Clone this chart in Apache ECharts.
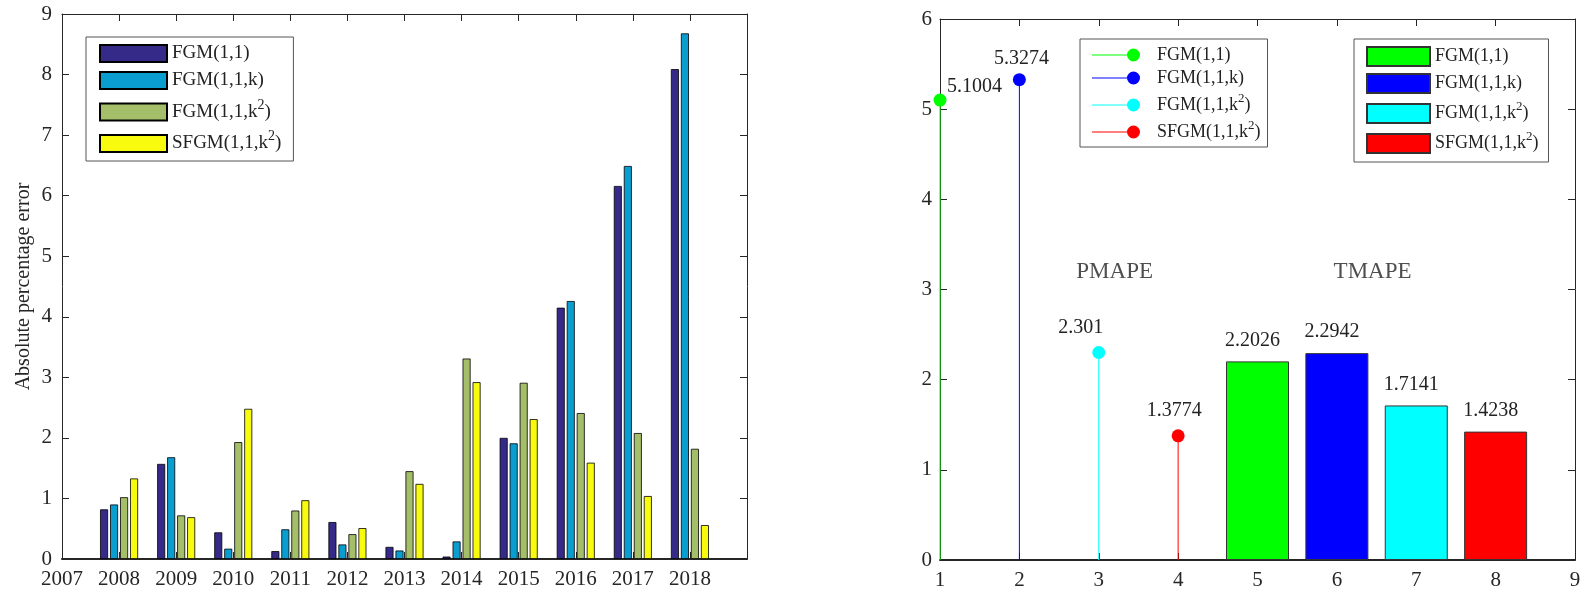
<!DOCTYPE html>
<html><head><meta charset="utf-8">
<script src="https://cdn.jsdelivr.net/npm/echarts@6/dist/echarts.min.js"></script>
<style>html,body{margin:0;padding:0;background:#fff}#c{width:1585px;height:595px}</style>
</head><body><div id="c"></div>
<script>
// ---------- data ----------
const years = [2008, 2009, 2010, 2011, 2012, 2013, 2014, 2015, 2016, 2017, 2018];
const apeFGM11   = [0.82, 1.57, 0.44, 0.13, 0.61, 0.20, 0.04, 2.00, 4.15, 6.16, 8.09];
const apeFGM11k  = [0.90, 1.68, 0.17, 0.49, 0.24, 0.14, 0.29, 1.91, 4.26, 6.49, 8.68];
const apeFGM11k2 = [1.02, 0.72, 1.93, 0.80, 0.41, 1.45, 3.31, 2.91, 2.41, 2.08, 1.82];
const apeSFGM    = [1.33, 0.69, 2.48, 0.97, 0.51, 1.24, 2.92, 2.31, 1.59, 1.04, 0.56];

const modelLabels = ['FGM(1,1)', 'FGM(1,1,k)', 'FGM(1,1,k^2)', 'SFGM(1,1,k^2)'];

const pmapeX = [1, 2, 3, 4];
const pmape  = [5.1004, 5.3274, 2.301, 1.3774];
const tmapeX = [5, 6, 7, 8];
const tmape  = [2.2026, 2.2942, 1.7141, 1.4238];

const annotations = [['PMAPE', 3.2, 3.2], ['TMAPE', 6.45, 3.2]];

// ---------- styles ----------
const F = "'Liberation Serif','Times New Roman',serif";
const TC = '#222';
const leftColors = ['#352a87', '#0a9dd0', '#a5be6a', '#f9fb0e'];
const rightColors = ['#00ff00', '#0000ff', '#00ffff', '#ff0000'];

function richLabel(txt, prefix) {
  const pre = prefix ? '{g| }' : '';
  if (txt.indexOf('^2') >= 0) {
    const parts = txt.split('^2');
    return pre + '{s|' + parts[0] + '}{p|2}{s|' + parts[1] + '}';
  }
  return pre + '{a|' + txt + '}';
}
function richStyles(fs, supFs, lhPlain, lhSup, gapW) {
  return {
    a: {fontSize: fs, fontFamily: F, color: TC, lineHeight: lhPlain},
    s: {fontSize: fs, fontFamily: F, color: TC, lineHeight: lhSup},
    p: {fontSize: supFs, fontFamily: F, color: TC, lineHeight: 12, verticalAlign: 'top'},
    g: {width: gapW || 0, fontSize: fs}
  };
}

const axisCommon = {
  axisLine: {onZero: false, lineStyle: {color: '#262626', width: 1}},
  axisTick: {inside: true, length: 7, lineStyle: {color: '#262626'}},
  splitLine: {show: false},
  axisLabel: {fontFamily: F, fontSize: 21, color: '#262626'}
};
function ax(extra) {
  const o = JSON.parse(JSON.stringify(axisCommon));
  for (const k in extra) {
    if (typeof extra[k] === 'object' && !Array.isArray(extra[k]) && o[k]) Object.assign(o[k], extra[k]);
    else o[k] = extra[k];
  }
  return o;
}

const labelMap = {};
['L', 'P', 'T'].forEach(p => modelLabels.forEach((m, i) => { labelMap[p + (i + 1)] = m; }));

// ---------- series ----------
const leftData = [apeFGM11, apeFGM11k, apeFGM11k2, apeSFGM];
const series = [];
leftData.forEach((arr, i) => {
  series.push({
    name: 'L' + (i + 1), type: 'bar', xAxisIndex: 0, yAxisIndex: 0,
    barWidth: 8, barGap: '25%',
    itemStyle: {color: leftColors[i], borderColor: '#000', borderWidth: 0.8},
    data: years.map((y, j) => [y, arr[j]]),
    silent: true
  });
});

const stemLabelOffsets = [[7, -13, 'left'], [2, -21, 'center'], [-18, -25, 'center'], [-4, -25, 'center']];
pmape.forEach((v, i) => {
  const col = rightColors[i];
  const off = stemLabelOffsets[i];
  series.push({
    name: 'P' + (i + 1), type: 'custom', xAxisIndex: 2, yAxisIndex: 2,
    itemStyle: {color: col},
    data: [[pmapeX[i], v]],
    encode: {x: 0, y: 1},
    silent: true,
    renderItem: function (params, api) {
      const x = api.value(0), y = api.value(1);
      const top = api.coord([x, y]);
      const base = api.coord([x, 0]);
      return {type: 'group', children: [
        {type: 'line', shape: {x1: base[0], y1: base[1], x2: top[0], y2: top[1]}, style: {stroke: col, lineWidth: 1}},
        {type: 'circle', shape: {cx: top[0], cy: top[1], r: 6.5}, style: {fill: col}},
        {type: 'text', style: {text: String(y), x: top[0] + off[0], y: top[1] + off[1], align: off[2], verticalAlign: 'middle',
          font: '20px ' + F, fill: TC}}
      ]};
    }
  });
});

tmape.forEach((v, i) => {
  series.push({
    name: 'T' + (i + 1), type: 'bar', xAxisIndex: 2, yAxisIndex: 2,
    barWidth: 63, barGap: '-100%',
    itemStyle: {color: rightColors[i], borderColor: '#333', borderWidth: 1},
    label: {show: true, position: 'top', distance: 11, offset: [-5, 0], fontFamily: F, fontSize: 20, color: TC,
      formatter: p => String(p.value[1])},
    data: [[tmapeX[i], v]],
    silent: true
  });
});

series.push({
  name: 'annot', type: 'scatter', xAxisIndex: 2, yAxisIndex: 2,
  symbol: 'circle', symbolSize: 1, itemStyle: {color: 'rgba(0,0,0,0)'},
  label: {show: true, position: 'inside', fontFamily: F, fontSize: 23, color: TC, formatter: p => p.name},
  data: annotations.map(a => ({name: a[0], value: [a[1], a[2]]})),
  silent: true
});

const stemIcon = 'path://M0,6 L42,6 L42,7 L0,7 Z M41.5,0 A6.5,6.5 0 1 1 41.5,13 A6.5,6.5 0 1 1 41.5,0 Z';

const option = {
  animation: false,
  backgroundColor: '#fff',
  grid: [
    {left: 62, top: 14, width: 685, height: 545},
    {left: 940, top: 19, width: 635, height: 541}
  ],
  xAxis: [
    ax({type: 'value', gridIndex: 0, min: 2007, max: 2019, interval: 1, position: 'bottom',
      axisLine: {lineStyle: {color: '#262626', width: 2}},
      axisLabel: {margin: 10, formatter: v => v === 2019 ? '' : String(v)}}),
    ax({type: 'value', gridIndex: 0, min: 2007, max: 2019, interval: 1, position: 'top', axisLabel: {show: false}}),
    ax({type: 'value', gridIndex: 1, min: 1, max: 9, interval: 1, position: 'bottom',
      axisLine: {lineStyle: {color: '#262626', width: 2}},
      axisLabel: {margin: 10}}),
    ax({type: 'value', gridIndex: 1, min: 1, max: 9, interval: 1, position: 'top', axisLabel: {show: false}})
  ],
  yAxis: [
    ax({type: 'value', gridIndex: 0, min: 0, max: 9, interval: 1, position: 'left',
      axisLabel: {margin: 10},
      name: 'Absolute percentage error', nameLocation: 'middle', nameGap: 28,
      nameTextStyle: {fontFamily: F, fontSize: 20, color: '#262626'}}),
    ax({type: 'value', gridIndex: 0, min: 0, max: 9, interval: 1, position: 'right', axisLabel: {show: false}}),
    ax({type: 'value', gridIndex: 1, min: 0, max: 6, interval: 1, position: 'left', axisLabel: {margin: 8}}),
    ax({type: 'value', gridIndex: 1, min: 0, max: 6, interval: 1, position: 'right', axisLabel: {show: false}})
  ],
  legend: [
    {
      left: 86, top: 37, orient: 'vertical', itemWidth: 67, itemHeight: 17, itemGap: 8,
      padding: [7, 12, 8, 13], borderColor: '#555', borderWidth: 1, selectedMode: false,
      data: ['L1', 'L2', 'L3', 'L4'].map(n => ({name: n, icon: 'rect'})),
      formatter: n => richLabel(labelMap[n], false),
      textStyle: {fontFamily: F, fontSize: 19, color: TC, rich: richStyles(19, 14, 22, 28)}
    },
    {
      left: 1080, top: 39, orient: 'vertical', itemWidth: 48, itemHeight: 13, itemGap: 5,
      padding: [7, 7, 6, 12], borderColor: '#555', borderWidth: 1, selectedMode: false,
      data: ['P1', 'P2', 'P3', 'P4'].map(n => ({name: n, icon: stemIcon})),
      formatter: n => richLabel(labelMap[n], true),
      textStyle: {fontFamily: F, fontSize: 18, color: TC, rich: richStyles(18, 13, 20, 26, 12)}
    },
    {
      left: 1354, top: 39, orient: 'vertical', itemWidth: 63, itemHeight: 19, itemGap: 6,
      padding: [7, 10, 8, 12], borderColor: '#555', borderWidth: 1, selectedMode: false,
      data: ['T1', 'T2', 'T3', 'T4'].map(n => ({name: n, icon: 'rect'})),
      formatter: n => richLabel(labelMap[n], false),
      textStyle: {fontFamily: F, fontSize: 18, color: TC, rich: richStyles(18, 13, 20, 27)}
    }
  ],
  series: series
};
const chart = echarts.init(document.getElementById('c'), null, {renderer: 'canvas'});
chart.setOption(option);
</script></body></html>
